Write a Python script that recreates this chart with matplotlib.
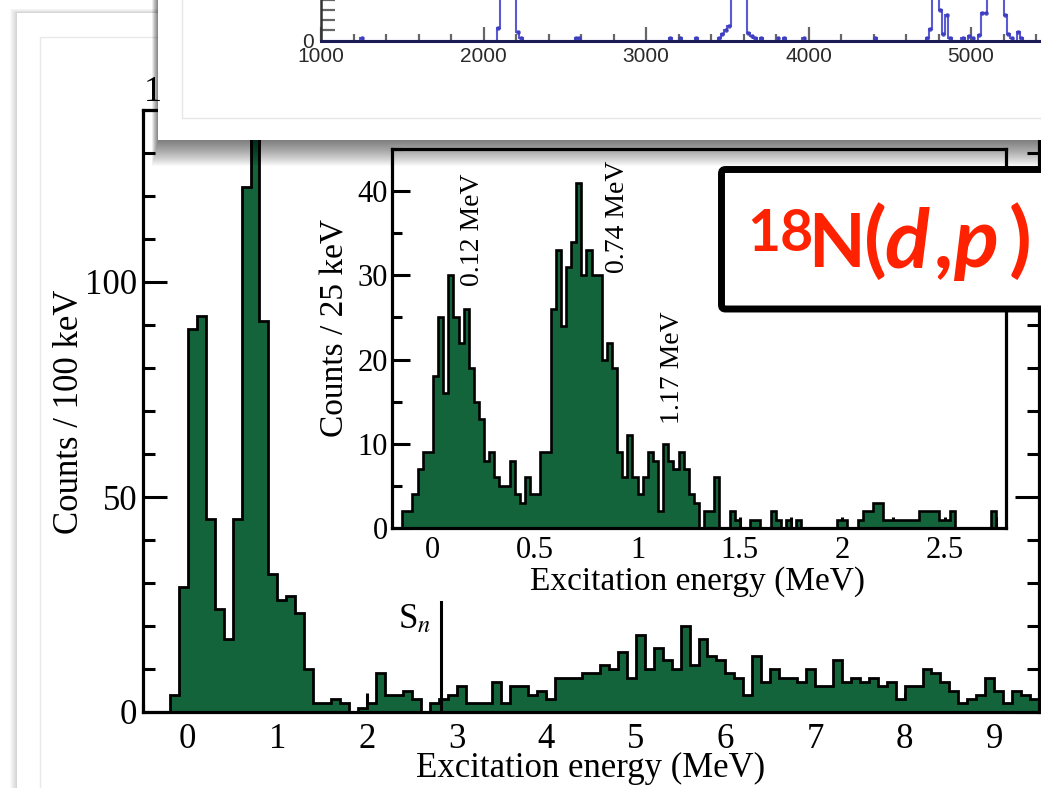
import numpy as np
import matplotlib.pyplot as plt
from matplotlib.patches import Rectangle, FancyBboxPatch
from matplotlib.ticker import MultipleLocator, FixedLocator, FuncFormatter

W, H = 1041, 788
GREEN = '#13643a'
RED = '#ff2200'

plt.rcParams['font.family'] = ['Liberation Serif', 'DejaVu Serif']
plt.rcParams['mathtext.fontset'] = 'stix'

# main spectrum: 100 keV bins starting at -0.5 MeV
main_start, main_width = -0.5, 0.1
main_counts = [0, 0, 0, 4, 29, 89, 92, 45, 24, 17,
               45, 122, 150, 91, 32, 26, 27, 23, 10, 2,
               2, 3, 2, 0, 1, 2, 9, 4, 4, 5,
               3, 0, 2, 3, 4, 6, 2, 2, 2, 7,
               2, 6, 6, 4, 5, 3, 8, 8, 8, 9,
               9, 11, 10, 14, 8, 18, 10, 15, 12, 10,
               20, 11, 17, 13, 12, 9, 8, 4, 13, 7,
               10, 8, 8, 7, 10, 6, 6, 12, 7, 8,
               7, 8, 6, 7, 3, 6, 6, 10, 9, 7,
               5, 2, 3, 4, 8, 5, 2, 5, 4, 3]

# inset: 25 keV bins starting at -0.2 MeV
inset_start, inset_width = -0.2, 0.025
inset_counts = [0, 0, 2, 2, 4, 7, 9, 9,
                18, 25, 16, 30, 25, 22, 26, 19, 15, 13, 8, 9, 6, 5, 5, 8,
                4, 3, 6, 4, 4, 9, 9, 26, 33, 24, 31, 34, 41, 30, 33, 30,
                30, 20, 22, 19, 9, 6, 11, 6, 4, 6, 9, 8, 2, 10, 8, 7,
                9, 7, 4, 3, 0, 2, 2, 6, 0, 0, 2, 1, 0, 0, 1, 1,
                0, 0, 2, 1, 0, 1, 0, 1, 0, 0, 0, 0, 0, 0, 0, 1,
                1, 0, 0, 1, 2, 2, 3, 3, 1, 1, 1, 1, 1, 1, 1, 2,
                2, 2, 2, 1, 1, 2, 0, 0, 0, 0, 0, 0, 0, 2, 0, 0]

peak_labels = ['0.12 MeV', '0.74 MeV', '1.17 MeV']
peak_pos = [(0.195, 35.4), (0.90, 36.9), (1.17, 19.0)]
sn_energy = 2.83

# raw spectrum on the top slide (20 channel bins, only non-empty ones)
raw_start, raw_width, raw_nbins = 1000, 20, 250
raw_ch = [1240, 2080, 2100, 2120, 2140, 2160, 2180, 2200, 2220, 2560, 2580,
          3140, 3200, 3300, 3440, 3460, 3480, 3500, 3520, 3540, 3560, 3580,
          3600, 3620, 3640, 3660, 3700, 3800, 3840, 3960, 4400, 4720, 4740,
          4760, 4780, 4800, 4820, 4840, 4860, 4940, 4980, 5000, 5040, 5060,
          5080, 5100, 5120, 5140, 5160, 5180, 5200, 5220, 5240, 5280, 5300]
raw_val = [3, 12, 90, 95, 100, 96, 88, 8, 3, 3, 3,
           3, 3, 3, 3, 6, 10, 14, 90, 95, 98, 94, 88, 7, 4, 3, 3, 3, 3, 3,
           3, 3, 11, 70, 60, 30, 6, 25, 3, 3, 4, 3, 5, 27,
           27, 80, 85, 90, 85, 80, 25, 6, 3, 8, 3]

fig = plt.figure(figsize=(W / 100, H / 100), dpi=100, facecolor='white')

# slide background
bg = fig.add_axes([0, 0, 1, 1], zorder=0)
bg.set_xlim(0, W)
bg.set_ylim(H, 0)
bg.axis('off')
for d in range(1, 8):
    bg.add_patch(Rectangle((17 - d, 13 - d * 0.6), W + 50, H + 50,
                           facecolor='black', alpha=0.022, lw=0))
bg.add_patch(Rectangle((17, 13), W + 50, H + 50, facecolor='white', lw=0))
bg.add_patch(Rectangle((40, 37), W + 50, H + 50, fill=False,
                       edgecolor='#e9e9e9', lw=1))

# main spectrum
ax = fig.add_axes([143 / W, 76 / H, 896 / W, 602 / H], zorder=1)
edges = main_start + main_width * np.arange(len(main_counts) + 1)
ax.stairs(main_counts, edges, fill=True, color=GREEN, lw=0, zorder=2)
ax.stairs(main_counts, edges, color='black', lw=2.0, zorder=3)
ax.set_xlim(-0.5, 9.5)
ax.set_ylim(0, 140)
ax.xaxis.set_major_locator(MultipleLocator(1))
ax.xaxis.set_minor_locator(MultipleLocator(0.5))
ax.yaxis.set_major_locator(MultipleLocator(50))
ax.yaxis.set_minor_locator(MultipleLocator(10))
for s in ax.spines.values():
    s.set_linewidth(2.3)
ax.tick_params(which='both', direction='in', top=True, right=True,
               width=2.2, labelsize=25)
ax.tick_params(axis='x', which='major', length=14, pad=8)
ax.tick_params(axis='x', which='minor', length=6.5)
ax.tick_params(axis='y', which='major', length=17, pad=4)
ax.tick_params(axis='y', which='minor', length=8.5)
ax.plot([sn_energy, sn_energy], [0, 25.6], color='black', lw=2.2, zorder=4)
ax.text(2.72, 21.5, r'S$_n$', ha='right', va='center', fontsize=25)
ax.text(0.5, -0.093, 'Excitation energy (MeV)', transform=ax.transAxes,
        ha='center', va='center', fontsize=25)
ax.text(-0.0815, 0.498, 'Counts / 100 keV', transform=ax.transAxes,
        ha='center', va='center', rotation=90, fontsize=25)

# inset
ax_in = fig.add_axes([392 / W, 260 / H, 614 / W, 379 / H], zorder=2)
ax_in.set_facecolor('white')
iedges = inset_start + inset_width * np.arange(len(inset_counts) + 1)
ax_in.stairs(inset_counts, iedges, fill=True, color=GREEN, lw=0, zorder=2)
ax_in.stairs(inset_counts, iedges, color='black', lw=1.9, zorder=3)
ax_in.set_xlim(-0.2, 2.8)
ax_in.set_ylim(0, 45)
ax_in.xaxis.set_major_locator(MultipleLocator(0.5))
ax_in.xaxis.set_minor_locator(MultipleLocator(0.25))
ax_in.xaxis.set_major_formatter(FuncFormatter(lambda v, p: '%g' % v))
ax_in.yaxis.set_major_locator(MultipleLocator(10))
ax_in.yaxis.set_minor_locator(MultipleLocator(5))
for s in ax_in.spines.values():
    s.set_linewidth(2.3)
ax_in.tick_params(which='both', direction='in', width=2.2, labelsize=22)
ax_in.tick_params(axis='x', which='both', length=8, pad=6)
ax_in.tick_params(axis='y', which='major', length=13, pad=3)
ax_in.tick_params(axis='y', which='minor', length=7)
for lab, (px, py) in zip(peak_labels, peak_pos):
    ax_in.text(px, py, lab, rotation=90, ha='center', va='center',
               fontsize=20, zorder=5)
ax_in.text(0.497, -0.1425, 'Excitation energy (MeV)', transform=ax_in.transAxes,
           ha='center', va='center', fontsize=24)
ax_in.text(-0.0928, 0.528, 'Counts / 25 keV', transform=ax_in.transAxes,
           ha='center', va='center', rotation=90, fontsize=24)

# overlaid slide with raw spectrum, its shadow and the title box
deco = fig.add_axes([0, 0, 1, 1], zorder=3)
deco.set_xlim(0, W)
deco.set_ylim(H, 0)
deco.axis('off')
deco.patch.set_alpha(0)
for i in range(26):
    deco.add_patch(Rectangle((158 - i * 0.25, -20), W + 100, 160 + i + 1,
                             facecolor='black', alpha=0.022, lw=0))
deco.add_patch(Rectangle((158, -20), W + 100, 160, facecolor='white', lw=0))
deco.plot([182, 182, W + 10], [-5, 118, 118], color='#e6e6e6', lw=1)
deco.text(153, 92, '1', ha='center', va='center', fontsize=26)

deco.add_patch(FancyBboxPatch((721.5, 169.5), 420, 139.5,
                              boxstyle='round,pad=0,rounding_size=4',
                              lw=5, edgecolor='black', facecolor='white',
                              zorder=5))
deco.text(747, 251, '18', fontsize=41, fontweight='bold', family='Lato',
          color=RED, va='baseline', ha='left', zorder=6)
title_parts = [('N', 'normal', 53, 808), ('(', 'normal', 60, 864),
               ('d', 'italic', 60, 884), (',', 'italic', 60, 936),
               ('p', 'italic', 60, 953), (')', 'normal', 60, 1009)]
for s, st, fs, xp in title_parts:
    deco.text(xp, 267, s, fontsize=fs, fontweight='bold', fontstyle=st,
              family='Lato', color=RED, va='baseline', ha='left', zorder=6)

ax_raw = fig.add_axes([321 / W, 1 - 40.5 / H, 812.5 / W, 100 / H], zorder=4)
ax_raw.patch.set_alpha(0)
raw = np.zeros(raw_nbins)
for c, v in zip(raw_ch, raw_val):
    raw[(c - raw_start) // raw_width] = v
redges = raw_start + raw_width * np.arange(raw_nbins + 1)
ax_raw.stairs(raw, redges, color='#4848cc', lw=1.5, alpha=0.9)
centers = redges[:-1] + raw_width / 2
nz = raw > 0
ax_raw.plot(centers[nz], raw[nz], 'o', ms=2.3, color='#3a3ac0', alpha=0.8)
ax_raw.set_xlim(1000, 6000)
ax_raw.set_ylim(0, 100)
ax_raw.spines['top'].set_visible(False)
ax_raw.spines['right'].set_visible(False)
ax_raw.spines['bottom'].set_linewidth(2.2)
ax_raw.spines['bottom'].set_color('#1c1c55')
ax_raw.spines['left'].set_linewidth(1.8)
ax_raw.spines['left'].set_color('#333333')
ax_raw.xaxis.set_major_locator(MultipleLocator(1000))
ax_raw.xaxis.set_minor_locator(MultipleLocator(200))
ax_raw.yaxis.set_major_locator(FixedLocator([0]))
ax_raw.yaxis.set_minor_locator(MultipleLocator(10))
ax_raw.tick_params(which='both', direction='in', color='#666666', width=1.6,
                   labelsize=15, labelcolor='#2a2a2a')
ax_raw.tick_params(axis='x', which='major', length=10, pad=5)
ax_raw.tick_params(axis='x', which='minor', length=5)
ax_raw.tick_params(axis='y', which='minor', length=10)
ax_raw.tick_params(axis='y', which='major', length=0, pad=5)
for lab in ax_raw.get_xticklabels() + ax_raw.get_yticklabels():
    lab.set_family(['Liberation Sans', 'DejaVu Sans'])

fig.savefig('out.png', dpi=100, facecolor='white')
